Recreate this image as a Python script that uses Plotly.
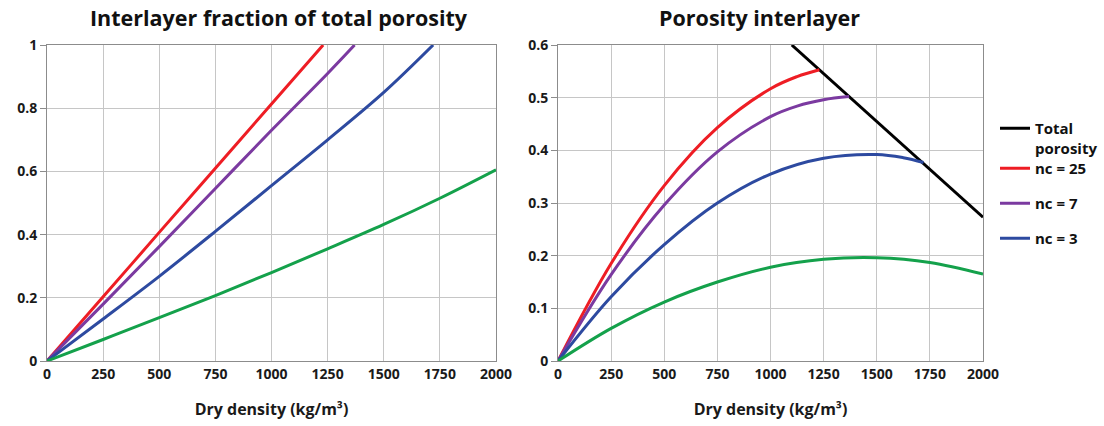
import plotly.graph_objects as go

# Dry density sample points (kg/m3)
rho = [0, 250, 500, 750, 1000, 1250, 1500, 1750, 2000]

# Interlayer fraction of total porosity, per stacking number nc
frac_x_25 = [0, 250, 500, 750, 1000, 1230]
frac_25 = [0, 0.203, 0.407, 0.61, 0.813, 1.0]
frac_x_7 = [0, 250, 500, 750, 1000, 1250, 1370]
frac_7 = [0, 0.18, 0.362, 0.546, 0.73, 0.91, 1.0]
frac_x_3 = [0, 250, 500, 750, 1000, 1250, 1500, 1720]
frac_3 = [0, 0.133, 0.268, 0.41, 0.555, 0.70, 0.85, 1.0]
frac_x_1 = rho
frac_1 = [0, 0.068, 0.137, 0.207, 0.28, 0.355, 0.432, 0.515, 0.605]

# Interlayer porosity, per stacking number nc
por_x_25 = [0, 250, 500, 750, 1000, 1125, 1230]
por_25 = [0, 0.185, 0.333, 0.443, 0.517, 0.540, 0.553]
por_x_7 = [0, 250, 500, 750, 1000, 1125, 1250, 1370]
por_7 = [0, 0.164, 0.296, 0.397, 0.464, 0.484, 0.496, 0.502]
por_x_3 = [0, 250, 500, 750, 1000, 1250, 1500, 1625, 1720]
por_3 = [0, 0.122, 0.221, 0.300, 0.355, 0.385, 0.392, 0.386, 0.377]
por_x_1 = rho
por_1 = [0, 0.062, 0.112, 0.150, 0.178, 0.193, 0.196, 0.187, 0.165]

# Total porosity
tot_x = [1100, 2000]
tot = [0.6, 0.273]

x_ticks = [0, 250, 500, 750, 1000, 1250, 1500, 1750, 2000]

RED = "#ee1d24"
PURPLE = "#7b3aa0"
BLUE = "#2d4aa0"
GREEN = "#14a14b"

FONT = "Open Sans"
fig = go.Figure()

# Left panel: fraction of total porosity
for xs, ys, col in [(frac_x_25, frac_25, RED), (frac_x_7, frac_7, PURPLE),
                    (frac_x_3, frac_3, BLUE), (frac_x_1, frac_1, GREEN)]:
    fig.add_trace(go.Scatter(x=xs, y=ys, mode="lines", xaxis="x", yaxis="y",
                             line=dict(color=col, width=3, shape="spline"),
                             showlegend=False))

# Right panel: total porosity and interlayer porosity
fig.add_trace(go.Scatter(x=tot_x, y=tot, mode="lines", xaxis="x2", yaxis="y2",
                         name="Total<br>porosity", legend="legend",
                         line=dict(color="black", width=3)))
for xs, ys, col, nm in [(por_x_25, por_25, RED, "nc = 25"),
                        (por_x_7, por_7, PURPLE, "nc = 7"),
                        (por_x_3, por_3, BLUE, "nc = 3"),
                        (por_x_1, por_1, GREEN, None)]:
    fig.add_trace(go.Scatter(x=xs, y=ys, mode="lines", xaxis="x2", yaxis="y2",
                             name=nm, legend="legend2", legendgroup=nm,
                             showlegend=nm is not None,
                             line=dict(color=col, width=3, shape="spline")))

W, H = 1104, 426
yb, yt = 1 - 361 / H, 1 - 45 / H

axis_common = dict(
    automargin=False,
    showgrid=True, gridcolor="#c6c6c6", gridwidth=1,
    showline=True, linecolor="#8c8c8c", linewidth=1, mirror=True,
    zeroline=False,
    tickfont=dict(family=FONT, size=14, color="#1a1a1a", weight="bold"),
)
xtitle = dict(text="Dry density (kg/m³)", standoff=22,
              font=dict(family=FONT, size=16, color="#1a1a1a", weight="bold"))
legend_font = dict(family=FONT, size=15, color="#111", weight="bold")

fig.update_layout(
    width=W, height=H,
    margin=dict(l=0, r=0, t=0, b=0),
    paper_bgcolor="white", plot_bgcolor="white",
    font=dict(family=FONT, color="#111"),
    xaxis=dict(domain=[47 / W, 496 / W], range=[0, 2000], tickvals=x_ticks,
               ticks="", anchor="y", title=xtitle, **axis_common),
    yaxis=dict(domain=[yb, yt], range=[0, 1], tickvals=[0, 0.2, 0.4, 0.6, 0.8, 1],
               ticktext=["0", "0.2", "0.4", "0.6", "0.8", "1"],
               ticks="outside", ticklen=6, tickcolor="#8c8c8c", anchor="x", **axis_common),
    xaxis2=dict(domain=[558 / W, 983 / W], range=[0, 2000], tickvals=x_ticks,
                ticks="", anchor="y2", title=xtitle, **axis_common),
    yaxis2=dict(domain=[yb, yt], range=[0, 0.6], tickvals=[0, 0.1, 0.2, 0.3, 0.4, 0.5, 0.6],
                ticks="outside", ticklen=6, tickcolor="#8c8c8c", anchor="x2", **axis_common),
    legend=dict(x=995 / W, y=1 - 112 / H, xanchor="left", yanchor="top",
                valign="top", bgcolor="rgba(0,0,0,0)", font=legend_font),
    legend2=dict(x=995 / W, y=1 - 152 / H, xanchor="left", yanchor="top",
                 tracegroupgap=12.5, bgcolor="rgba(0,0,0,0)", font=legend_font),
    annotations=[
        dict(text="Interlayer fraction of total porosity", x=279 / W, y=1 - 18 / H,
             xref="paper", yref="paper", showarrow=False, xanchor="center", yanchor="middle",
             font=dict(family=FONT, size=21.5, color="#111", weight="bold")),
        dict(text="Porosity interlayer", x=759 / W, y=1 - 18 / H,
             xref="paper", yref="paper", showarrow=False, xanchor="center", yanchor="middle",
             font=dict(family=FONT, size=21.5, color="#111", weight="bold")),
    ],
)

fig.write_html("out.html")
